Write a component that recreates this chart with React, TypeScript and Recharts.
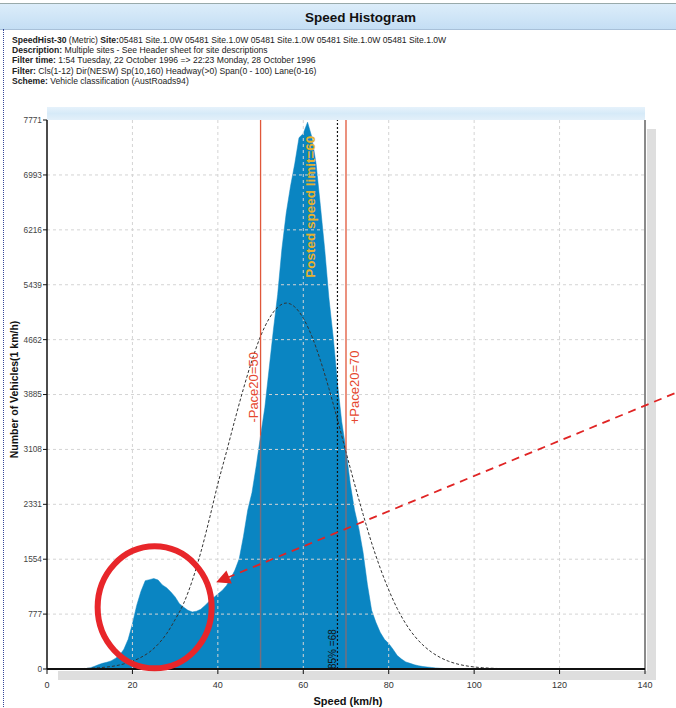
import React from 'react';
import { ComposedChart, Area, Line, XAxis, YAxis, ReferenceLine, ReferenceDot } from 'recharts';

const FONT = '"Liberation Sans", Arial, Helvetica, sans-serif';

// Histogram: vehicles per 1 km/h speed bin, bins 0..140
const speedCounts = [
  0, 0, 0, 0, 0, 0, 0, 0, 0, 5,
  15, 35, 60, 80, 95, 115, 150, 195, 280, 420,
  640, 900, 1100, 1250, 1265, 1280, 1260, 1190, 1150, 1090,
  1020, 925, 875, 830, 808, 818, 845, 900, 960, 1010,
  1060, 1110, 1180, 1280, 1400, 1560, 1880, 2250, 2500, 2880,
  3300, 3700, 4250, 4800, 5300, 5950, 6450, 6830, 7150, 7520,
  7580, 7740, 7530, 7150, 6560, 5950, 5250, 4700, 4050, 3500,
  3100, 2620, 2250, 1990, 1650, 1200, 830, 660, 520, 420,
  360, 280, 190, 140, 100, 80, 60, 45, 35, 28,
  22, 15, 10, 7, 5, 4, 3, 2, 2, 1,
  1, 0, 0, 0, 6, 0, 8, 0, 0, 5,
  0, 0, 0, 0, 0, 0, 0, 6, 0, 0,
  0, 0, 0, 0, 0, 0, 0, 0, 0, 0,
  0, 0, 0, 0, 0, 0, 0, 0, 0, 0,
  0,
];
const histData = speedCounts.map((count, speed) => ({ speed, count }));

// Fitted normal curve (dashed), read at 2 km/h steps
const fitSpeeds = [
  0, 2, 4, 6, 8, 10, 12, 14, 16, 18, 20, 22, 24, 26, 28, 30, 32, 34, 36, 38,
  40, 42, 44, 46, 48, 50, 52, 54, 56, 58, 60, 62, 64, 66, 68, 70, 72, 74, 76, 78,
  80, 82, 84, 86, 88, 90, 92, 94, 96, 98, 100, 102, 104, 106, 108, 110, 112, 114,
  120, 130, 140,
];
const fitValues = [
  0, 1, 2, 3, 6, 10, 17, 28, 45, 72, 110, 165, 240, 350, 500, 700, 930, 1250, 1650, 2120,
  2620, 3070, 3530, 3970, 4370, 4710, 4960, 5120, 5180, 5125, 4965, 4710, 4370, 3970, 3530, 3070, 2620, 2190, 1785, 1430,
  1120, 855, 640, 470, 340, 240, 165, 110, 72, 46, 29, 18, 11, 6, 3, 2, 1, 0,
  0, 0, 0,
];
const fitData = fitSpeeds.map((speed, i) => ({ speed, fit: fitValues[i] }));

const xTicks = [0, 20, 40, 60, 80, 100, 120, 140];
const yTicks = [0, 777, 1554, 2331, 3108, 3885, 4662, 5439, 6216, 6993, 7771];
const xGrid = [20, 40, 60, 80, 100, 120];
const yGrid = [777, 1554, 2331, 3108, 3885, 4662, 5439, 6216, 6993];
const yMax = 7771;

const paceLow = 50;
const paceHigh = 70;
const postedLimit = 60;
const pct85 = 68;

// Annotation (hand-drawn) positions in data units
const circleCenter = { speed: 25.2, count: 873 };
const arrowStart = { speed: 146.9, count: 3901 };
const arrowBase = { speed: 42.2, count: 1292 };
const arrowTip = { speed: 39.6, count: 1227 };

const RED = '#e0573a';

function VText({ viewBox, text, dx, frac, color, size, weight, anchor }: any) {
  const x = viewBox.x + dx;
  const y = viewBox.y + viewBox.height * frac;
  return (
    <text
      x={x}
      y={y}
      transform={`rotate(-90 ${x} ${y})`}
      textAnchor={anchor || 'middle'}
      dominantBaseline="central"
      fill={color}
      fontSize={size}
      fontWeight={weight}
      fontFamily={FONT}
    >
      {text}
    </text>
  );
}

function YLabel({ viewBox }: any) {
  const x = viewBox.x + 14;
  const y = viewBox.y + viewBox.height / 2 - 5;
  return (
    <text x={x} y={y} transform={`rotate(-90 ${x} ${y})`} textAnchor="middle" dominantBaseline="central"
      fontSize={10.5} fontWeight="bold" fill="#111" fontFamily={FONT}>
      Number of Vehicles(1 km/h)
    </text>
  );
}

function XLabel({ viewBox }: any) {
  const x = viewBox.x + viewBox.width / 2 + 2;
  const y = viewBox.y + viewBox.height + 11;
  return (
    <text x={x} y={y} textAnchor="middle" fontSize={11} fontWeight="bold" fill="#111" fontFamily={FONT}>
      Speed (km/h)
    </text>
  );
}

const infoLines: [string, string][] = [
  ['Description:', ' Multiple sites - See Header sheet for site descriptions'],
  ['Filter time:', ' 1:54 Tuesday, 22 October 1996 => 22:23 Monday, 28 October 1996'],
  ['Filter:', ' Cls(1-12) Dir(NESW) Sp(10,160) Headway(>0) Span(0 - 100) Lane(0-16)'],
  ['Scheme:', ' Vehicle classification (AustRoads94)'],
];

function paceLines(x: number, label: React.ReactElement) {
  const c = speedCounts[x];
  return [
    <ReferenceLine key={'pa' + x} segment={[{ x, y: c }, { x, y: yMax }]} stroke={RED} strokeWidth={1.3} />,
    <ReferenceLine key={'pb' + x} segment={[{ x, y: 0 }, { x, y: c }]} stroke={RED} strokeOpacity={0.5} strokeWidth={1.5} />,
    <ReferenceLine key={'pc' + x} x={x} stroke="none" strokeOpacity={0} label={label} />,
  ];
}

export default function App() {
  return (
    <div style={{ position: 'absolute', left: 0, top: 0, width: 676, height: 708, background: '#fff', overflow: 'hidden', fontFamily: FONT }}>
      {/* header band */}
      <div style={{ position: 'absolute', left: 0, top: 3, width: 676, height: 25, background: 'linear-gradient(#dcedfa, #c4def4)', borderTop: '1px solid #9aa', borderBottom: '1px solid #a8c0d8' }}>
        <div style={{ position: 'absolute', left: 305, top: 6, fontSize: 13.5, fontWeight: 'bold', color: '#111' }}>Speed Histogram</div>
      </div>
      {/* left dotted border */}
      <div style={{ position: 'absolute', left: 3, top: 29, width: 0, height: 680, borderLeft: '1px dotted #34479a' }} />
      {/* info text */}
      <div style={{ position: 'absolute', left: 12, top: 35, fontSize: 8.6, lineHeight: '10.2px', color: '#222', whiteSpace: 'nowrap' }}>
        <div><b>SpeedHist-30</b> (Metric) <b>Site:</b>05481 Site.1.0W 05481 Site.1.0W 05481 Site.1.0W 05481 Site.1.0W 05481 Site.1.0W</div>
        {infoLines.map(([b, t]) => (
          <div key={b}><b>{b}</b>{t}</div>
        ))}
      </div>
      {/* light blue band above plot */}
      <div style={{ position: 'absolute', left: 47, top: 107, width: 598, height: 13, background: 'linear-gradient(#e6f2fb, #d6eaf8 50%, #e3f0fa)' }} />
      {/* shadows */}
      <div style={{ position: 'absolute', left: 647, top: 129, width: 9, height: 551, background: '#dedede' }} />
      <div style={{ position: 'absolute', left: 58, top: 671, width: 598, height: 9, background: '#dedede' }} />

      <div style={{ position: 'absolute', left: 0, top: 0 }}>
        <ComposedChart width={676} height={708} margin={{ top: 120, right: 31, bottom: 14, left: 0 }} data={histData}>
          <XAxis
            dataKey="speed"
            type="number"
            domain={[0, 140]}
            ticks={xTicks}
            interval={0}
            tickSize={5}
            tickMargin={8}
            height={25}
            axisLine={{ stroke: '#111', strokeWidth: 2 }}
            tickLine={{ stroke: '#111' }}
            tick={{ fontSize: 9, fill: '#333', fontFamily: FONT }}
            label={<XLabel />}
          />
          <YAxis
            type="number"
            domain={[0, yMax]}
            ticks={yTicks}
            interval={0}
            width={47}
            tickSize={4}
            tickMargin={1}
            axisLine={{ stroke: '#111', strokeWidth: 1.5 }}
            tickLine={{ stroke: '#111' }}
            tick={{ fontSize: 8.3, fill: '#444', fontFamily: FONT }}
            label={<YLabel />}
          />
          <Area
            dataKey="count"
            type="linear"
            fill="#0a85c2"
            fillOpacity={1}
            stroke="#0a85c2"
            strokeWidth={0.5}
            isAnimationActive={false}
            dot={false}
            activeDot={false}
          />
          {yGrid.map((v) => (
            <ReferenceLine key={'y' + v} y={v} stroke="#d4d4d4" strokeDasharray="3 3" strokeWidth={1} />
          ))}
          {xGrid.map((v) => (
            <ReferenceLine key={'x' + v} x={v} stroke="#d4d4d4" strokeDasharray="3 3" strokeWidth={1} />
          ))}
          <ReferenceLine x={140} stroke="#8a8a8a" strokeWidth={2} />
          <Line
            data={fitData}
            dataKey="fit"
            type="monotone"
            stroke="#333"
            strokeWidth={1}
            strokeDasharray="3 2"
            dot={false}
            activeDot={false}
            isAnimationActive={false}
          />
          {paceLines(paceLow, <VText text="-Pace20=50" dx={-7} frac={0.487} color="#e5482f" size={13} weight="normal" />)}
          {paceLines(paceHigh, <VText text="+Pace20=70" dx={8.5} frac={0.487} color="#e5482f" size={13} weight="normal" />)}
          <ReferenceLine
            x={pct85}
            stroke="#111"
            strokeWidth={1.2}
            strokeDasharray="2 2"
            label={<VText text="85% =68" dx={-5} frac={1} color="#111" size={10} weight="normal" anchor="start" />}
          />
          <ReferenceLine
            x={postedLimit}
            stroke="none"
            strokeOpacity={0}
            label={<VText text="Posted speed limit=60" dx={7.5} frac={0.158} color="#e6b12e" size={13.5} weight="bold" />}
          />
          {/* hand-drawn red annotations */}
          <ReferenceDot
            x={circleCenter.speed}
            y={circleCenter.count}
            ifOverflow="visible"
            shape={(p: any) => (
              <ellipse cx={p.cx} cy={p.cy} rx={57} ry={61} fill="none" stroke="#e8262a" strokeWidth={6} />
            )}
          />
          <ReferenceLine
            segment={[{ x: arrowStart.speed, y: arrowStart.count }, { x: arrowBase.speed, y: arrowBase.count }]}
            ifOverflow="visible"
            stroke="#e02424"
            strokeWidth={1.8}
            strokeDasharray="8 6"
          />
          <ReferenceDot
            x={arrowTip.speed}
            y={arrowTip.count}
            ifOverflow="visible"
            shape={(p: any) => (
              <polygon
                points="0,0 -14,-7 -14,7"
                fill="#e02424"
                transform={`translate(${p.cx} ${p.cy}) rotate(157.7)`}
              />
            )}
          />
        </ComposedChart>
      </div>
    </div>
  );
}
